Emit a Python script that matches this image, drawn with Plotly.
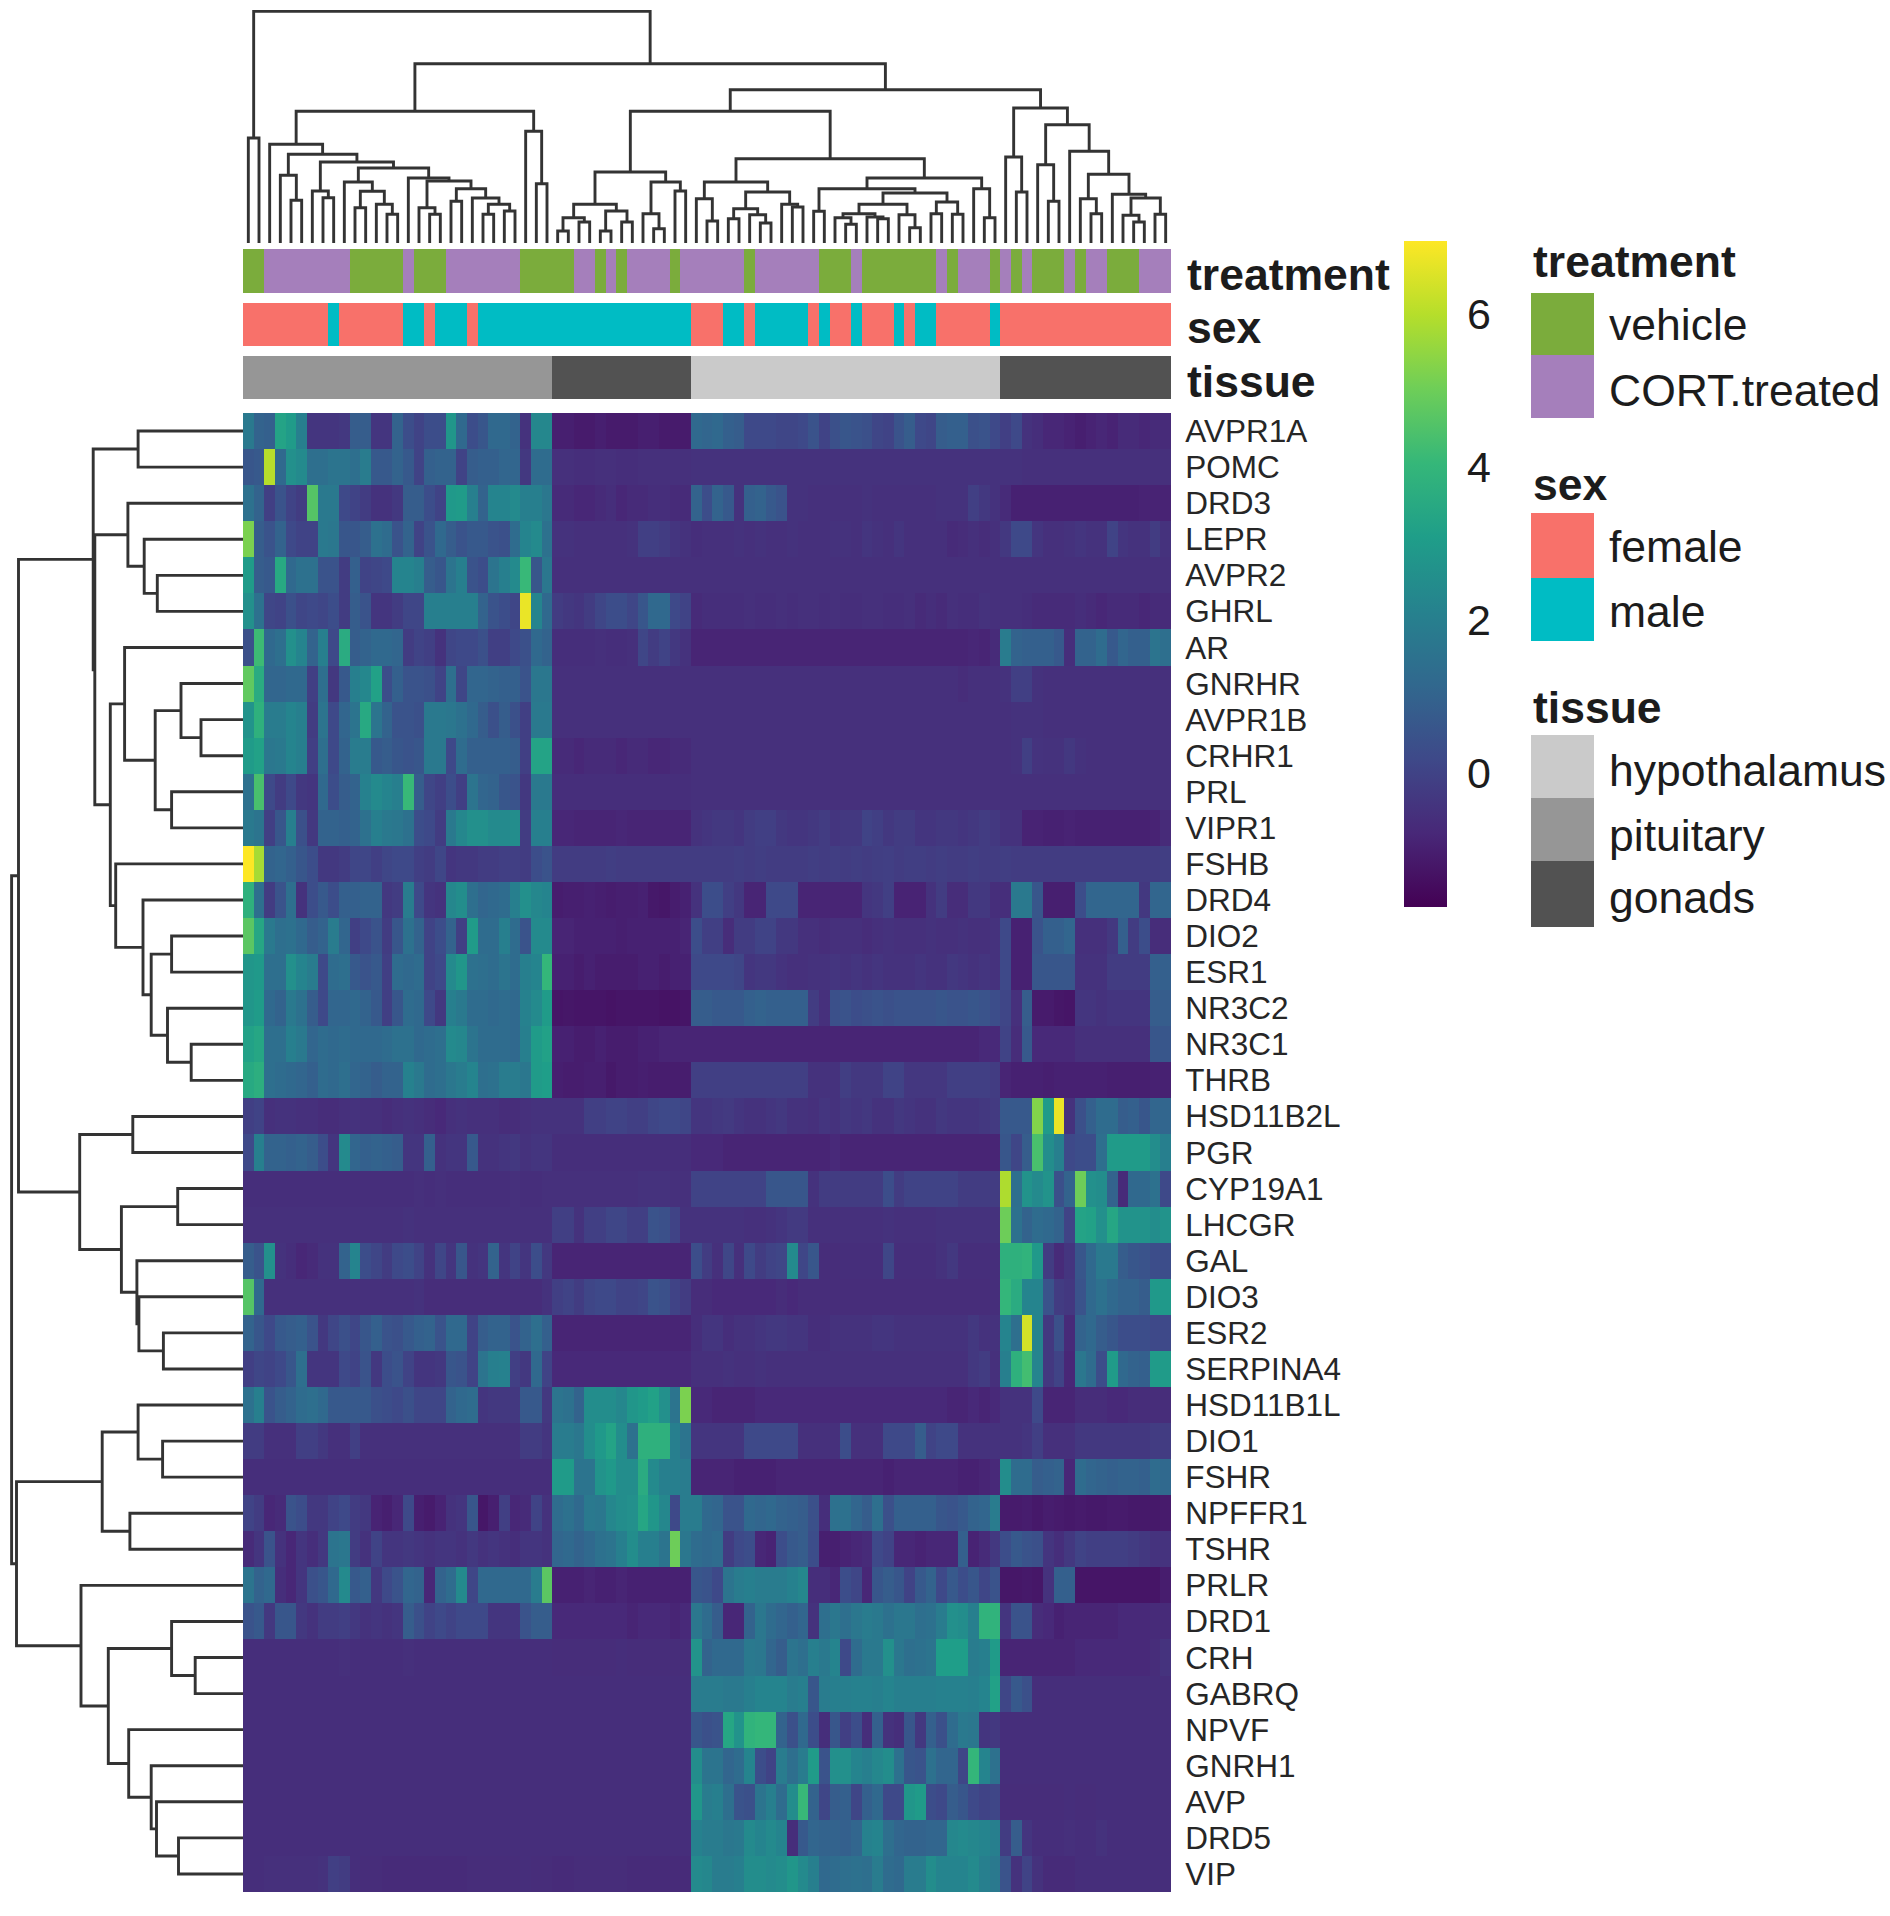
import plotly.graph_objects as go

W, H = 1890, 1916

GENES = ["AVPR1A","POMC","DRD3","LEPR","AVPR2","GHRL","AR","GNRHR","AVPR1B","CRHR1","PRL","VIPR1","FSHB",
         "DRD4","DIO2","ESR1","NR3C2","NR3C1","THRB","HSD11B2L","PGR","CYP19A1","LHCGR","GAL","DIO3","ESR2",
         "SERPINA4","HSD11B1L","DIO1","FSHR","NPFFR1","TSHR","PRLR","DRD1","CRH","GABRQ","NPVF","GNRH1","AVP","DRD5","VIP"]

def row(a, b, c, d):
    assert (len(a), len(b), len(c), len(d)) == (29, 13, 29, 16), (len(a), len(b), len(c), len(d))
    return a + b + c + d

AVPR1A = row([1.8,1.0,0.9,3.3,3.0,2.0,-0.4,-0.4,-0.4,-0.3,0.8,0.8,-0.4,-0.4,1.0,0.3,0.0,0.3,0.3,2.8,1.2,0.3,0.6,1.2,1.2,1.0,-0.5,2.3,2.3],
 [-1.0,-1.0,-1.1,-1.1,-1.0,-1.1,-1.1,-1.1,-1.0,-1.0,-1.1,-1.1,-1.1],
 [1.2,1.1,1.2,0.9,0.8,0.2,0.2,0.2,0.1,0.1,0.2,0.5,0.0,0.4,0.6,0.5,0.4,0.1,0.0,0.5,0.8,0.2,0.1,0.8,0.9,0.9,0.4,0.5,0.2],
 [-0.1,0.2,-0.5,-0.6,-0.8,-0.8,-0.9,-1.0,-0.9,-0.8,-0.9,-0.7,-0.7,-0.8,-0.7,-0.7])
POMC = row([0.6,0.7,6.0,1.2,2.6,2.4,1.4,1.4,1.6,1.6,1.4,1.9,0.7,0.7,1.0,0.7,0.0,0.9,1.0,1.0,0.0,0.8,0.9,0.9,1.1,1.1,-0.3,1.3,1.3],
 [-0.55,-0.55,-0.6,-0.6,-0.55,-0.55,-0.6,-0.6,-0.55,-0.55,-0.55,-0.55,-0.55],
 [-0.5,-0.5,-0.5,-0.5,-0.5,-0.5,-0.5,-0.5,-0.5,-0.5,-0.5,-0.5,-0.5,-0.5,-0.5,-0.5,-0.5,-0.5,-0.5,-0.5,-0.5,-0.5,-0.5,-0.5,-0.5,-0.5,-0.5,-0.5,-0.5],
 [-0.5,-0.5,-0.55,-0.55,-0.55,-0.55,-0.55,-0.55,-0.55,-0.55,-0.55,-0.55,-0.55,-0.55,-0.55,-0.55])
DRD3 = row([1.5,1.0,-0.1,0.5,0.0,-0.2,4.6,1.8,1.8,0.2,0.0,-0.2,-0.5,-0.5,-0.3,0.8,0.8,0.3,0.0,2.9,3.0,2.0,1.0,2.2,2.2,2.4,2.0,2.0,1.7],
 [-0.7,-0.7,-0.8,-0.8,-0.7,-0.6,-0.8,-0.7,-0.7,-0.6,-0.6,-0.7,-0.7],
 [1.0,0.3,1.0,0.7,-0.5,0.9,1.0,0.7,0.5,-0.5,-0.5,-0.55,-0.55,-0.55,-0.55,-0.55,-0.5,-0.55,-0.55,-0.55,-0.55,-0.55,-0.55,-0.5,-0.5,-0.5,-0.1,-0.3,-0.5],
 [-0.7,-0.95,-0.95,-0.95,-0.95,-0.95,-0.95,-0.95,-0.95,-0.95,-0.95,-0.95,-0.95,-0.9,-0.9,-0.9])
LEPR = row([5.2,0.8,0.5,1.0,0.2,0.0,0.0,1.8,1.7,0.6,0.6,0.8,1.5,1.3,0.5,1.0,0.0,0.5,1.2,0.8,0.5,0.7,0.7,0.5,0.4,1.3,2.2,2.4,1.5],
 [-0.5,-0.5,-0.55,-0.55,-0.55,-0.55,-0.55,-0.5,-0.1,-0.1,-0.2,-0.4,-0.5],
 [-0.6,-0.55,-0.55,-0.55,-0.5,-0.55,-0.5,-0.55,-0.55,-0.5,-0.55,-0.55,-0.55,-0.5,-0.5,-0.55,-0.4,-0.5,-0.55,-0.4,-0.55,-0.55,-0.55,-0.55,-0.7,-0.65,-0.55,-0.65,-0.55],
 [-0.3,0.2,0.2,-0.4,-0.55,-0.55,-0.5,-0.4,-0.5,-0.5,0.0,-0.4,-0.5,-0.5,-0.2,-0.5])
AVPR2 = row([3.0,0.8,0.7,3.5,1.2,1.5,1.5,0.5,0.5,-0.2,0.9,0.0,0.1,0.2,2.2,2.2,2.0,0.8,0.6,1.6,2.0,0.5,0.3,1.6,2.0,2.4,4.1,0.6,1.7],
 [-0.55,-0.55,-0.55,-0.55,-0.55,-0.55,-0.55,-0.55,-0.55,-0.55,-0.55,-0.55,-0.55],
 [-0.55,-0.55,-0.55,-0.55,-0.55,-0.55,-0.55,-0.55,-0.55,-0.55,-0.55,-0.55,-0.55,-0.55,-0.55,-0.55,-0.55,-0.55,-0.55,-0.55,-0.55,-0.55,-0.55,-0.55,-0.55,-0.55,-0.55,-0.55,-0.55],
 [-0.55,-0.55,-0.55,-0.55,-0.55,-0.55,-0.55,-0.55,-0.55,-0.55,-0.55,-0.55,-0.55,-0.55,-0.55,-0.55])
GHRL = row([2.6,1.5,0.1,0.0,0.4,0.1,0.2,0.1,0.3,-0.2,0.8,0.5,-0.4,-0.4,-0.2,0.1,0.1,2.0,2.0,2.0,2.0,2.0,1.0,0.5,0.3,0.1,6.7,2.2,1.2],
 [-0.2,-0.3,-0.4,-0.2,0.1,0.3,0.3,0.1,0.6,1.2,1.2,0.2,0.0],
 [-0.7,-0.6,-0.6,-0.6,-0.6,-0.55,-0.6,-0.6,-0.55,-0.6,-0.55,-0.55,-0.6,-0.55,-0.6,-0.6,-0.55,-0.55,-0.6,-0.6,-0.55,-0.7,-0.6,-0.7,-0.55,-0.6,-0.6,-0.5,-0.55],
 [-0.55,-0.55,-0.6,-0.7,-0.7,-0.7,-0.7,-0.6,-0.7,-0.8,-0.7,-0.7,-0.7,-0.8,-0.7,-0.7])
AR = row([0.4,4.2,1.2,1.4,2.6,2.2,1.0,2.0,0.2,3.6,0.8,1.0,1.2,1.2,1.1,-0.2,0.0,-0.1,-0.5,0.1,0.2,0.2,0.4,-0.1,-0.1,0.2,0.4,1.2,1.0],
 [-0.6,-0.6,-0.6,-0.6,-0.55,-0.6,-0.6,-0.55,0.1,-0.2,0.0,-0.3,-0.5],
 [-0.85,-0.85,-0.85,-0.85,-0.85,-0.85,-0.85,-0.85,-0.85,-0.85,-0.85,-0.85,-0.85,-0.85,-0.85,-0.85,-0.85,-0.85,-0.85,-0.85,-0.85,-0.85,-0.85,-0.85,-0.85,-0.85,-0.8,-0.85,-0.7],
 [1.9,1.0,0.9,0.9,0.9,0.7,-0.6,1.0,1.0,1.3,0.7,1.1,0.9,0.9,1.6,1.4])
GNRHR = row([4.8,3.6,1.1,1.1,1.2,1.2,-0.1,1.4,-0.3,0.7,2.0,2.3,3.2,0.3,0.9,0.5,0.5,0.4,0.0,1.4,0.1,1.1,1.1,1.0,0.9,0.9,0.5,1.7,1.7],
 [-0.55,-0.55,-0.55,-0.55,-0.55,-0.55,-0.55,-0.55,-0.55,-0.55,-0.55,-0.55,-0.55],
 [-0.55,-0.55,-0.55,-0.55,-0.55,-0.55,-0.55,-0.55,-0.55,-0.55,-0.55,-0.55,-0.55,-0.55,-0.55,-0.55,-0.55,-0.55,-0.55,-0.55,-0.55,-0.55,-0.55,-0.55,-0.55,-0.65,-0.55,-0.55,-0.55],
 [-0.5,-0.1,-0.1,-0.5,-0.55,-0.55,-0.55,-0.55,-0.55,-0.55,-0.55,-0.55,-0.55,-0.55,-0.55,-0.55])
AVPR1B = row([2.7,3.8,1.9,1.9,2.2,2.0,-0.2,1.6,0.2,1.1,1.6,3.5,1.6,1.0,0.5,0.5,0.4,1.8,1.8,1.7,1.5,1.2,0.8,0.4,0.8,0.4,-0.1,1.8,1.8],
 [-0.55,-0.55,-0.55,-0.55,-0.55,-0.55,-0.55,-0.55,-0.55,-0.55,-0.55,-0.55,-0.55],
 [-0.55,-0.55,-0.55,-0.55,-0.55,-0.55,-0.55,-0.55,-0.55,-0.55,-0.55,-0.55,-0.55,-0.55,-0.55,-0.55,-0.55,-0.55,-0.55,-0.55,-0.55,-0.55,-0.55,-0.55,-0.55,-0.55,-0.55,-0.55,-0.55],
 [-0.55,-0.5,-0.5,-0.5,-0.55,-0.55,-0.55,-0.55,-0.55,-0.55,-0.55,-0.55,-0.55,-0.55,-0.55,-0.55])
CRHR1 = row([3.0,3.2,1.7,1.8,2.2,2.0,-0.1,1.4,0.2,1.0,1.9,1.9,0.7,0.8,0.6,0.5,0.6,1.8,1.8,0.2,1.3,0.9,0.9,0.9,0.9,0.8,-0.1,3.3,3.3],
 [-0.7,-0.7,-0.8,-0.7,-0.7,-0.7,-0.8,-0.7,-0.7,-0.8,-0.8,-0.7,-0.7],
 [-0.55,-0.55,-0.55,-0.55,-0.55,-0.55,-0.55,-0.55,-0.55,-0.55,-0.55,-0.55,-0.55,-0.55,-0.55,-0.55,-0.55,-0.55,-0.55,-0.55,-0.55,-0.55,-0.55,-0.55,-0.55,-0.55,-0.55,-0.55,-0.55],
 [-0.55,-0.5,-0.1,-0.45,-0.5,-0.5,-0.3,-0.5,-0.55,-0.55,-0.55,-0.55,-0.55,-0.55,-0.55,-0.55])
PRL = row([1.5,4.4,0.2,-0.2,0.2,-0.3,-0.4,1.2,0.3,0.8,1.0,2.1,2.4,2.2,2.0,4.1,0.8,0.1,-0.1,0.3,-0.1,1.6,1.1,1.0,0.6,0.5,-0.3,1.8,1.8],
 [-0.6,-0.6,-0.6,-0.6,-0.6,-0.6,-0.6,-0.6,-0.6,-0.6,-0.6,-0.6,-0.6],
 [-0.55,-0.55,-0.55,-0.55,-0.55,-0.55,-0.55,-0.55,-0.55,-0.55,-0.55,-0.55,-0.55,-0.55,-0.55,-0.55,-0.55,-0.55,-0.55,-0.55,-0.55,-0.55,-0.55,-0.55,-0.55,-0.55,-0.55,-0.55,-0.55],
 [-0.55,-0.55,-0.55,-0.55,-0.55,-0.55,-0.55,-0.55,-0.55,-0.55,-0.55,-0.55,-0.55,-0.55,-0.55,-0.55])
VIPR1 = row([1.8,1.6,-0.1,0.6,2.0,0.4,-0.3,1.0,1.0,0.9,1.0,1.5,2.0,1.8,1.7,1.5,0.3,0.2,-0.2,1.8,2.3,2.6,2.6,2.4,2.4,2.5,-0.2,2.0,2.0],
 [-0.8,-0.8,-0.85,-0.85,-0.85,-0.85,-0.8,-0.85,-0.85,-0.85,-0.85,-0.85,-0.85],
 [-0.5,-0.4,-0.3,-0.3,-0.4,-0.2,-0.1,-0.1,-0.3,-0.4,-0.4,-0.3,-0.2,-0.4,-0.3,-0.3,0.0,-0.1,-0.3,-0.2,-0.2,-0.4,-0.4,-0.3,-0.3,-0.4,-0.3,-0.2,-0.3],
 [-0.5,-0.5,-0.9,-0.9,-0.95,-0.95,-0.9,-0.95,-0.95,-0.95,-0.95,-0.95,-0.95,-0.95,-0.9,-0.7])
FSHB = row([7.0,5.8,1.0,1.1,0.9,0.6,0.3,-0.3,-0.3,-0.2,0.1,0.1,-0.1,0.1,0.2,0.2,-0.1,-0.2,0.1,-0.4,-0.3,-0.3,-0.2,-0.2,-0.1,-0.1,-0.2,0.3,0.5],
 [-0.2,-0.2,-0.2,-0.2,-0.2,-0.15,-0.2,-0.2,-0.2,-0.2,-0.2,-0.2,-0.2],
 [-0.2,-0.2,-0.2,-0.2,-0.15,-0.2,-0.15,-0.2,-0.2,-0.2,-0.2,-0.15,-0.2,-0.15,-0.2,-0.15,-0.2,-0.15,-0.1,-0.2,-0.15,-0.15,-0.2,-0.15,-0.2,-0.2,-0.15,-0.2,-0.2],
 [-0.15,-0.2,-0.2,-0.2,-0.2,-0.2,-0.2,-0.2,-0.2,-0.2,-0.2,-0.2,-0.2,-0.2,-0.2,-0.15])
DRD4 = row([3.8,1.4,-0.2,0.5,1.4,-0.5,0.3,0.7,0.3,0.9,0.9,1.0,1.0,-0.3,-0.2,1.9,0.2,-0.4,-0.5,2.3,2.5,1.4,1.1,1.2,1.3,2.0,2.6,2.3,2.2],
 [-1.05,-1.0,-1.0,-0.95,-1.0,-1.05,-1.0,-1.0,-0.95,-1.15,-1.2,-1.05,-0.95],
 [-0.5,0.3,0.3,-0.1,-0.3,-0.85,-0.85,0.2,0.2,0.2,-0.85,-0.85,-0.85,-0.85,-0.85,-0.85,-0.4,-0.3,-0.1,-0.9,-0.9,-0.9,-0.5,-0.2,-0.65,-0.65,-0.3,-0.3,-0.6],
 [-0.6,1.8,1.8,0.6,-1.0,-1.0,-1.0,0.3,1.1,1.1,1.1,1.1,1.1,-0.3,1.1,1.1])
DIO2 = row([4.7,3.4,1.8,1.4,1.5,1.2,0.8,1.0,1.9,1.1,-0.1,0.2,0.5,-0.2,0.6,1.5,1.0,0.0,0.3,1.0,-0.1,3.0,1.3,1.3,2.0,1.3,0.5,2.4,2.4],
 [-0.85,-0.85,-0.95,-0.95,-0.95,-0.95,-1.0,-0.95,-0.95,-0.95,-0.95,-0.95,-0.85],
 [0.3,-0.1,-0.1,-0.65,-0.2,-0.2,0.0,0.0,-0.3,-0.3,-0.55,-0.55,-0.65,-0.55,-0.55,-0.55,-0.65,-0.55,-0.5,-0.55,-0.55,-0.55,-0.5,-0.55,-0.55,-0.5,-0.55,-0.55,-0.5],
 [0.2,-0.95,-0.95,0.5,0.9,0.9,1.1,-0.55,-0.55,-0.55,-0.3,0.9,-0.2,0.3,-0.65,-0.65])
ESR1 = row([2.8,2.9,1.4,1.4,2.6,2.2,1.9,0.2,1.3,1.4,0.7,0.5,0.7,-0.1,1.3,1.2,1.3,0.0,0.2,2.4,2.8,1.5,1.4,1.3,1.6,1.3,2.0,2.2,4.0],
 [-0.95,-0.95,-1.05,-0.95,-1.05,-1.05,-1.05,-1.05,-0.95,-0.95,-1.05,-0.95,-0.95],
 [0.2,0.2,0.2,0.2,0.1,-0.4,-0.3,-0.3,-0.45,-0.55,-0.55,-0.5,-0.5,-0.4,-0.5,-0.4,-0.5,-0.4,-0.5,-0.5,-0.5,-0.4,-0.5,-0.5,-0.3,-0.4,-0.5,-0.4,-0.5],
 [0.2,-0.95,-0.95,0.6,0.6,0.6,0.6,-0.5,-0.5,-0.5,-0.2,-0.2,-0.2,-0.2,0.9,0.9])
NR3C2 = row([2.8,3.0,1.2,1.0,1.8,1.5,0.8,0.2,1.1,1.1,1.2,1.0,0.7,-0.1,0.6,1.3,1.2,0.2,-0.3,2.0,1.8,1.3,1.3,1.2,1.3,1.2,2.1,2.4,3.0],
 [-1.25,-1.2,-1.25,-1.25,-1.25,-1.3,-1.25,-1.25,-1.25,-1.25,-1.3,-1.3,-1.25],
 [0.8,0.8,0.7,0.7,0.7,0.9,1.0,0.9,0.9,0.9,0.9,-0.2,-0.55,0.4,0.5,0.3,0.4,0.5,0.4,0.5,0.5,0.5,0.5,0.6,0.5,0.5,0.6,0.5,0.3],
 [0.1,-0.55,0.8,-1.1,-1.1,-1.2,-1.25,-0.4,-0.4,-0.5,-0.4,-0.4,-0.4,-0.4,0.8,0.8])
NR3C1 = row([3.2,3.4,1.4,1.4,2.0,1.8,1.1,1.3,1.2,1.3,1.2,1.2,1.2,1.3,1.5,1.5,1.2,1.3,1.4,2.4,2.3,1.6,1.3,1.3,1.3,1.2,2.0,3.0,3.2],
 [-0.95,-0.95,-1.05,-1.05,-0.95,-1.05,-1.05,-1.05,-0.95,-0.95,-0.85,-0.85,-0.85],
 [-0.85,-0.85,-0.85,-0.85,-0.85,-0.85,-0.85,-0.85,-0.85,-0.85,-0.85,-0.85,-0.85,-0.85,-0.85,-0.85,-0.85,-0.85,-0.85,-0.85,-0.85,-0.85,-0.85,-0.85,-0.85,-0.85,-0.85,-0.75,-0.75],
 [0.0,-0.65,0.7,-0.75,-0.75,-0.75,-0.75,-0.55,-0.55,-0.55,-0.55,-0.55,-0.55,-0.55,0.6,0.6])
THRB = row([3.5,3.7,1.4,1.3,1.2,1.1,0.9,1.3,1.2,1.4,1.1,1.0,0.8,1.0,1.0,2.1,1.8,1.3,1.4,1.7,1.9,2.2,1.4,1.5,1.9,1.9,1.7,3.0,3.1],
 [-1.0,-1.05,-1.05,-1.0,-1.0,-1.15,-1.05,-1.05,-1.0,-1.05,-1.05,-1.05,-1.05],
 [-0.1,-0.1,-0.1,-0.1,-0.1,-0.1,-0.1,-0.1,-0.1,-0.1,-0.1,-0.5,-0.5,-0.5,-0.15,-0.3,-0.3,-0.3,0.0,0.0,-0.35,-0.35,-0.35,-0.35,-0.1,-0.1,-0.1,-0.1,-0.2],
 [-0.85,-0.95,-0.95,-0.95,-1.0,-0.95,-0.95,-0.95,-0.95,-0.95,-1.0,-1.0,-1.0,-1.0,-0.95,-0.95])
HSD11B2L = row([-0.1,0.0,-0.55,-0.5,-0.5,-0.55,-0.55,-0.65,-0.65,-0.55,-0.5,-0.55,-0.55,-0.65,-0.55,-0.5,-0.55,-0.65,-0.75,-0.55,-0.5,-0.55,-0.55,-0.55,-0.65,-0.65,-0.55,-0.5,-0.5],
 [-0.5,-0.5,-0.5,-0.1,-0.1,0.0,0.0,-0.1,-0.1,0.1,0.2,0.2,0.1],
 [-0.4,-0.4,-0.3,-0.25,-0.4,-0.5,-0.5,-0.4,-0.3,-0.5,-0.5,-0.55,-0.4,-0.5,-0.3,-0.4,-0.3,-0.5,-0.5,-0.3,-0.4,-0.5,-0.5,-0.3,-0.4,-0.4,-0.4,-0.3,-0.25],
 [0.7,0.7,0.7,5.3,3.0,6.7,-0.5,0.4,0.9,1.3,1.3,0.8,0.9,0.6,1.1,1.1])
PGR = row([0.2,2.0,1.0,1.0,0.9,1.0,0.8,0.3,-0.4,2.4,1.1,0.9,1.0,0.9,0.8,-0.4,-0.4,0.9,-0.5,-0.4,-0.4,0.7,-0.5,-0.5,-0.4,-0.3,-0.5,-0.4,-0.4],
 [-0.6,-0.6,-0.6,-0.6,-0.6,-0.6,-0.6,-0.6,-0.6,-0.6,-0.6,-0.6,-0.6],
 [-0.75,-0.75,-0.75,-0.85,-0.85,-0.85,-0.85,-0.85,-0.85,-0.85,-0.85,-0.85,-0.85,-0.75,-0.85,-0.85,-0.85,-0.85,-0.85,-0.85,-0.85,-0.85,-0.85,-0.85,-0.85,-0.85,-0.85,-0.85,-0.85],
 [0.6,0.1,0.8,4.4,2.5,2.0,0.2,0.3,0.3,1.4,3.0,3.0,3.0,3.0,2.5,2.0])
CYP19A1 = row([-0.6,-0.6,-0.6,-0.6,-0.6,-0.6,-0.6,-0.6,-0.6,-0.6,-0.6,-0.6,-0.6,-0.6,-0.6,-0.6,-0.55,-0.6,-0.55,-0.6,-0.6,-0.6,-0.6,-0.6,-0.6,-0.55,-0.6,-0.6,-0.55],
 [-0.55,-0.55,-0.55,-0.55,-0.55,-0.55,-0.55,-0.55,-0.5,-0.5,-0.5,-0.55,-0.55],
 [0.0,0.0,0.0,0.0,0.0,0.0,0.0,0.6,0.6,0.6,0.6,-0.5,-0.2,-0.2,-0.2,-0.2,-0.2,-0.2,0.3,-0.2,0.0,0.0,0.0,0.0,0.0,-0.2,-0.2,-0.2,-0.2],
 [5.9,1.4,2.7,2.4,2.7,0.4,1.0,5.0,2.6,2.5,1.0,-0.7,1.2,1.2,1.5,0.2])
LHCGR = row([-0.55,-0.55,-0.55,-0.55,-0.55,-0.55,-0.55,-0.55,-0.55,-0.55,-0.55,-0.55,-0.55,-0.55,-0.55,-0.5,-0.55,-0.55,-0.55,-0.55,-0.55,-0.55,-0.55,-0.55,-0.55,-0.55,-0.55,-0.55,-0.55],
 [-0.1,-0.1,-0.5,-0.1,-0.1,0.1,0.1,-0.1,-0.1,0.5,0.4,0.0,-0.5],
 [-0.5,-0.5,-0.5,-0.5,-0.5,-0.55,-0.55,-0.5,-0.4,-0.25,-0.25,-0.55,-0.55,-0.55,-0.55,-0.55,-0.55,-0.55,-0.5,-0.55,-0.55,-0.55,-0.55,-0.5,-0.5,-0.5,-0.5,-0.5,-0.5],
 [5.0,1.5,1.0,1.3,1.2,1.0,0.0,3.3,3.2,2.6,3.4,2.7,2.7,2.7,2.5,2.7])
GAL = row([0.8,0.5,2.6,-0.5,-0.6,-0.8,-0.7,-0.5,-0.5,1.0,2.2,0.3,0.1,-0.2,0.2,0.3,0.0,-0.5,0.1,-0.4,0.6,-0.5,-0.4,1.0,-0.4,0.0,-0.4,0.3,-0.3],
 [-0.85,-0.85,-0.85,-0.85,-0.85,-0.85,-0.85,-0.85,-0.85,-0.85,-0.85,-0.85,-0.85],
 [0.3,-0.2,-0.55,0.1,-0.55,0.2,-0.2,0.0,0.1,2.4,0.1,0.6,-0.65,-0.65,-0.6,-0.6,-0.6,-0.6,0.1,-0.6,-0.6,-0.6,-0.6,-0.5,-0.3,-0.6,-0.6,-0.6,-0.6],
 [3.8,3.8,3.9,2.9,-0.2,-0.7,-0.4,0.6,1.2,1.8,1.8,0.8,0.6,0.5,0.3,0.3])
DIO3 = row([4.6,1.2,-0.55,-0.55,-0.55,-0.55,-0.55,-0.55,-0.55,-0.55,-0.55,-0.55,-0.55,-0.55,-0.55,-0.55,-0.5,-0.65,-0.65,-0.65,-0.65,-0.65,-0.65,-0.65,-0.65,-0.65,-0.65,-0.65,-0.5],
 [-0.1,0.0,-0.2,0.1,0.2,0.2,0.0,0.0,0.1,0.5,0.4,0.0,-0.2],
 [-0.65,-0.65,-0.75,-0.75,-0.75,-0.75,-0.75,-0.75,-0.65,-0.75,-0.65,-0.65,-0.65,-0.65,-0.65,-0.65,-0.65,-0.65,-0.65,-0.65,-0.65,-0.65,-0.65,-0.65,-0.65,-0.65,-0.65,-0.65,-0.6],
 [4.0,3.6,2.2,2.2,0.5,-0.2,-0.3,0.5,1.2,1.5,1.2,1.0,1.0,0.8,2.9,2.9])
ESR2 = row([1.0,0.6,0.2,0.7,0.8,0.9,0.5,-0.3,0.1,0.4,0.1,0.6,0.9,0.5,0.4,0.7,0.9,1.0,0.5,1.2,1.2,0.0,0.8,1.0,1.0,0.5,1.0,1.4,0.9],
 [-0.85,-0.85,-0.85,-0.85,-0.85,-0.85,-0.85,-0.85,-0.85,-0.85,-0.85,-0.85,-0.85],
 [-0.6,-0.4,-0.4,-0.6,-0.5,-0.5,-0.4,-0.3,-0.3,-0.4,-0.4,-0.6,-0.6,-0.5,-0.5,-0.5,-0.5,-0.4,-0.4,-0.5,-0.5,-0.5,-0.5,-0.5,-0.5,-0.5,-0.3,-0.5,-0.5],
 [2.2,1.4,6.4,2.2,-0.3,0.4,-0.7,1.0,1.2,0.8,0.6,0.3,0.3,0.3,0.2,0.2])
SERPINA4 = row([-0.1,0.1,0.0,0.2,0.6,1.4,-0.4,-0.4,-0.4,0.2,0.0,0.5,-0.3,0.3,0.5,0.0,-0.4,-0.4,-0.3,0.6,0.5,0.0,1.6,2.0,2.1,-0.1,-0.3,1.2,0.0],
 [-0.75,-0.75,-0.75,-0.75,-0.75,-0.75,-0.75,-0.75,-0.75,-0.75,-0.75,-0.75,-0.75],
 [-0.55,-0.55,-0.55,-0.5,-0.55,-0.55,-0.5,-0.55,-0.55,-0.55,-0.55,-0.55,-0.55,-0.55,-0.55,-0.55,-0.55,-0.55,-0.55,-0.55,-0.55,-0.55,-0.55,-0.55,-0.55,-0.55,-0.3,-0.2,-0.55],
 [2.0,3.8,4.3,2.2,-0.3,0.0,-0.8,1.7,1.3,0.3,3.0,1.2,1.0,0.9,3.0,3.0])
HSD11B1L = row([1.5,2.0,0.5,0.8,1.0,1.3,1.4,1.2,0.7,0.7,0.7,0.7,0.4,0.3,0.2,0.4,0.1,0.1,0.1,1.0,1.2,1.3,-0.4,-0.3,-0.3,-0.3,0.7,0.7,-0.3],
 [1.6,1.5,1.0,2.5,2.5,2.5,2.3,2.8,3.0,3.2,2.6,1.6,5.2],
 [-0.75,-0.75,-0.85,-0.85,-0.85,-0.85,-0.75,-0.75,-0.75,-0.75,-0.75,-0.75,-0.75,-0.75,-0.75,-0.75,-0.75,-0.75,-0.75,-0.75,-0.75,-0.75,-0.75,-0.75,-0.85,-0.85,-0.75,-0.85,-0.75],
 [-0.5,-0.5,-0.5,0.2,-0.85,-0.85,-0.85,-0.65,-0.65,-0.65,-0.75,-0.75,-0.65,-0.65,-0.65,-0.65])
DIO1 = row([-0.2,-0.2,-0.55,-0.55,-0.55,-0.1,-0.1,-0.3,-0.55,-0.55,-0.1,-0.55,-0.55,-0.55,-0.55,-0.55,-0.55,-0.55,-0.55,-0.55,-0.55,-0.55,-0.55,-0.55,-0.55,-0.55,-0.2,-0.2,-0.4],
 [1.9,1.9,1.7,2.5,2.9,3.3,2.5,1.5,3.8,3.8,3.8,2.0,1.6],
 [-0.4,-0.4,-0.4,-0.4,-0.4,0.2,0.2,0.2,0.2,0.2,-0.55,-0.55,-0.55,-0.55,0.3,-0.55,-0.55,-0.55,0.2,0.2,0.2,0.8,0.0,0.2,0.2,-0.5,-0.5,-0.5,-0.5],
 [-0.5,-0.5,-0.4,-0.1,-0.55,-0.55,-0.55,-0.3,-0.3,-0.3,-0.3,-0.3,-0.3,-0.3,-0.2,-0.2])
FSHR = row([-0.6,-0.6,-0.6,-0.6,-0.6,-0.6,-0.6,-0.6,-0.6,-0.6,-0.6,-0.6,-0.6,-0.6,-0.6,-0.6,-0.6,-0.6,-0.6,-0.6,-0.6,-0.6,-0.6,-0.6,-0.6,-0.6,-0.6,-0.6,-0.6],
 [3.0,3.0,1.6,1.6,2.7,2.9,2.5,2.5,3.6,2.4,2.0,2.0,1.9],
 [-0.85,-0.85,-0.85,-0.85,-0.95,-0.95,-0.95,-0.95,-0.85,-0.85,-0.85,-0.85,-0.85,-0.85,-0.85,-0.85,-0.85,-0.85,-0.95,-0.85,-0.85,-0.85,-0.85,-0.85,-0.85,-0.95,-0.95,-0.85,-0.75],
 [2.5,1.3,1.3,0.8,0.9,1.0,-0.8,1.3,1.1,1.0,0.9,1.0,1.0,0.9,1.3,1.2])
NPFFR1 = row([0.0,-0.2,-0.8,-0.7,0.5,0.3,-0.3,-0.3,0.0,0.2,-0.2,-0.3,-0.9,-1.0,-0.8,0.2,-1.0,-1.1,-0.9,-0.5,-0.4,0.6,-1.2,-1.0,-0.1,-0.8,-0.7,0.0,-0.5],
 [1.3,1.5,1.2,1.8,1.7,2.3,2.5,2.6,3.4,2.8,2.3,0.2,1.9],
 [1.9,1.2,1.1,0.5,0.5,1.2,1.1,1.2,1.0,0.9,0.8,0.4,-0.6,1.5,1.5,1.1,0.8,1.4,0.4,0.9,0.9,0.9,0.9,0.6,0.5,0.7,1.0,1.1,1.9],
 [-1.1,-1.1,-1.05,-1.15,-1.05,-1.1,-1.15,-1.1,-1.15,-1.15,-1.1,-1.1,-1.15,-1.15,-1.15,-1.1])
TSHR = row([-0.7,-0.4,0.5,-0.5,-0.8,-0.4,-0.6,-0.3,1.6,1.7,-0.2,-0.5,0.0,-0.4,-0.4,-0.3,-0.4,-0.5,-0.4,-0.4,-0.5,-0.3,-0.5,-0.4,-0.5,-0.6,-0.4,-0.4,-0.5],
 [1.1,1.2,1.0,1.2,1.5,1.6,2.0,2.5,2.0,2.0,1.6,5.0,1.7],
 [1.3,1.2,1.3,-0.2,0.2,0.3,-0.8,-0.9,0.3,0.7,0.8,0.3,-1.0,-1.0,-0.9,-0.8,-0.7,0.2,0.0,-0.8,-0.8,-0.9,-0.8,-0.8,-0.8,0.9,-0.9,-0.7,-0.3],
 [0.3,0.7,0.5,0.4,-0.4,-0.6,-0.3,0.0,-0.1,-0.1,-0.1,-0.1,-0.2,-0.3,-0.45,-0.45])
PRLR = row([1.6,1.0,1.2,-0.6,-0.8,-0.4,0.4,0.6,1.2,2.4,0.7,0.9,-0.3,0.2,0.5,1.1,1.0,-0.8,1.0,1.3,2.4,0.1,1.2,1.2,1.2,1.2,1.2,1.9,4.7],
 [-0.95,-0.95,-0.95,-0.85,-0.95,-0.95,-0.85,-0.95,-0.95,-0.95,-0.95,-0.95,-0.95],
 [0.6,0.5,0.2,1.6,1.9,2.0,1.9,1.9,1.9,2.1,2.3,-0.6,-0.6,-0.8,0.3,0.1,-0.8,0.6,0.8,0.6,0.0,0.7,1.0,0.2,0.7,0.3,0.6,0.1,0.5],
 [-1.2,-1.2,-1.15,-1.2,-0.5,0.9,0.9,-1.25,-1.25,-1.25,-1.25,-1.25,-1.25,-1.25,-1.25,-1.05])
DRD1 = row([0.5,0.7,-0.3,0.6,0.6,-0.3,-0.5,-0.2,-0.2,-0.1,-0.3,-0.5,-0.4,-0.5,-0.4,0.8,0.4,0.0,0.2,0.0,0.2,0.2,0.2,-0.4,-0.4,-0.4,0.5,0.8,0.8],
 [-0.75,-0.75,-0.75,-0.75,-0.75,-0.75,-0.75,-0.85,-0.75,-0.75,-0.75,-0.85,-0.75],
 [1.7,1.3,0.8,-0.8,-0.8,1.0,1.7,1.3,1.1,0.9,1.1,-0.5,1.4,1.7,1.4,1.7,1.9,1.8,1.5,1.7,1.7,1.4,1.5,1.9,2.6,2.5,2.0,3.9,3.9],
 [-0.4,0.5,0.5,-0.65,-0.75,-0.95,-0.85,-0.85,-0.85,-0.85,-0.85,-0.75,-0.75,-0.75,-0.7,-0.7])
CRH = row([-0.6,-0.6,-0.6,-0.6,-0.6,-0.6,-0.6,-0.6,-0.6,-0.55,-0.6,-0.6,-0.6,-0.6,-0.6,-0.55,-0.6,-0.6,-0.6,-0.6,-0.6,-0.6,-0.6,-0.6,-0.6,-0.6,-0.6,-0.6,-0.6],
 [-0.65,-0.65,-0.65,-0.65,-0.65,-0.65,-0.6,-0.65,-0.65,-0.65,-0.65,-0.65,-0.65],
 [2.7,1.0,1.2,1.2,1.2,1.8,1.7,1.1,0.8,1.6,1.4,2.0,1.8,2.2,0.2,1.3,1.8,1.8,2.6,1.7,1.4,1.5,1.6,3.1,3.1,3.1,1.9,2.0,3.0],
 [-0.85,-0.85,-0.85,-0.85,-0.85,-0.85,-0.85,-0.75,-0.75,-0.75,-0.75,-0.75,-0.75,-0.75,-0.65,-0.45])
GABRQ = row([-0.6,-0.6,-0.6,-0.6,-0.6,-0.6,-0.6,-0.6,-0.6,-0.6,-0.6,-0.6,-0.6,-0.6,-0.6,-0.6,-0.6,-0.6,-0.6,-0.6,-0.6,-0.6,-0.6,-0.6,-0.6,-0.6,-0.6,-0.6,-0.6],
 [-0.6,-0.6,-0.6,-0.6,-0.6,-0.6,-0.6,-0.6,-0.6,-0.6,-0.6,-0.6,-0.6],
 [1.9,1.9,1.9,1.8,1.8,2.0,2.2,2.2,2.2,1.9,2.0,0.6,1.9,2.0,2.0,2.1,2.1,2.0,2.2,2.0,2.0,2.0,2.0,2.1,2.1,2.1,2.0,2.2,3.2],
 [0.1,0.7,0.4,-0.6,-0.6,-0.6,-0.6,-0.6,-0.6,-0.6,-0.6,-0.6,-0.6,-0.6,-0.6,-0.6])
NPVF = row([-0.6,-0.6,-0.6,-0.6,-0.6,-0.6,-0.6,-0.6,-0.6,-0.6,-0.6,-0.6,-0.6,-0.6,-0.6,-0.6,-0.6,-0.6,-0.6,-0.6,-0.6,-0.6,-0.6,-0.6,-0.6,-0.6,-0.6,-0.6,-0.6],
 [-0.6,-0.6,-0.6,-0.6,-0.6,-0.6,-0.6,-0.6,-0.6,-0.6,-0.6,-0.6,-0.6],
 [0.6,0.4,0.5,3.4,2.7,3.9,4.0,4.0,1.0,0.4,1.2,0.3,-0.6,0.6,-0.1,0.3,-0.6,0.9,-0.5,-0.6,0.6,-0.3,0.9,0.4,1.3,1.8,1.7,-0.4,-0.3],
 [-0.6,-0.6,-0.6,-0.6,-0.6,-0.6,-0.6,-0.6,-0.6,-0.6,-0.6,-0.6,-0.6,-0.6,-0.6,-0.6])
GNRH1 = row([-0.6,-0.6,-0.6,-0.6,-0.6,-0.6,-0.6,-0.6,-0.6,-0.6,-0.6,-0.6,-0.6,-0.6,-0.6,-0.6,-0.6,-0.6,-0.6,-0.6,-0.6,-0.6,-0.6,-0.6,-0.6,-0.6,-0.6,-0.6,-0.6],
 [-0.6,-0.6,-0.6,-0.6,-0.6,-0.6,-0.6,-0.6,-0.6,-0.6,-0.6,-0.6,-0.6],
 [2.5,1.6,1.6,1.1,1.3,2.2,0.3,0.0,1.9,1.4,1.9,3.0,0.5,2.6,2.6,2.2,2.0,2.3,2.5,1.5,0.6,0.5,1.5,1.1,1.1,0.1,4.0,2.2,1.5],
 [-0.6,-0.6,-0.6,-0.6,-0.6,-0.6,-0.6,-0.6,-0.6,-0.6,-0.6,-0.6,-0.6,-0.6,-0.6,-0.6])
AVP = row([-0.6,-0.6,-0.6,-0.6,-0.6,-0.6,-0.6,-0.6,-0.6,-0.6,-0.6,-0.6,-0.6,-0.6,-0.6,-0.6,-0.6,-0.6,-0.6,-0.6,-0.6,-0.6,-0.6,-0.6,-0.6,-0.6,-0.6,-0.6,-0.6],
 [-0.6,-0.6,-0.6,-0.6,-0.6,-0.6,-0.6,-0.6,-0.6,-0.6,-0.6,-0.6,-0.6],
 [2.8,1.9,2.0,1.4,0.5,0.4,1.6,2.0,1.3,2.5,4.1,1.0,0.1,0.8,0.9,0.1,0.9,1.2,0.2,0.2,2.8,3.0,0.3,0.2,0.8,0.6,0.2,0.0,0.1],
 [-0.65,-0.65,-0.65,-0.65,-0.65,-0.65,-0.6,-0.65,-0.65,-0.6,-0.6,-0.6,-0.6,-0.6,-0.6,-0.6])
DRD5 = row([-0.6,-0.6,-0.6,-0.6,-0.6,-0.6,-0.6,-0.6,-0.6,-0.6,-0.6,-0.6,-0.6,-0.6,-0.6,-0.6,-0.6,-0.6,-0.6,-0.6,-0.6,-0.6,-0.6,-0.6,-0.6,-0.6,-0.6,-0.6,-0.6],
 [-0.6,-0.6,-0.6,-0.6,-0.6,-0.6,-0.6,-0.6,-0.6,-0.6,-0.6,-0.6,-0.6],
 [2.1,1.9,1.9,1.7,1.8,2.4,2.2,2.4,2.2,-0.6,0.7,1.1,1.0,1.0,0.9,1.1,2.1,2.2,1.4,1.1,1.0,1.0,1.1,1.1,2.3,2.4,2.3,2.2,2.0],
 [-0.2,0.8,-0.4,-0.6,-0.6,-0.6,-0.55,-0.6,-0.6,-0.5,-0.6,-0.6,-0.6,-0.6,-0.6,-0.6])
VIP = row([-0.6,-0.6,-0.55,-0.55,-0.55,-0.55,-0.55,-0.5,-0.1,-0.2,-0.6,-0.65,-0.65,-0.7,-0.7,-0.7,-0.7,-0.7,-0.7,-0.7,-0.7,-0.65,-0.65,-0.65,-0.65,-0.65,-0.6,-0.65,-0.65],
 [-0.7,-0.7,-0.65,-0.65,-0.65,-0.65,-0.65,-0.7,-0.7,-0.7,-0.7,-0.7,-0.7],
 [2.4,2.3,1.9,1.9,2.0,2.5,2.5,2.4,2.5,2.8,2.4,2.0,1.2,1.3,1.4,1.5,1.4,1.9,1.3,1.2,1.9,1.9,2.5,2.2,2.2,2.2,2.4,2.0,1.8],
 [0.5,-0.5,0.0,-0.5,-0.7,-0.7,-0.7,-0.6,-0.6,-0.6,-0.6,-0.6,-0.6,-0.6,-0.6,-0.6])

MATRIX = [AVPR1A,POMC,DRD3,LEPR,AVPR2,GHRL,AR,GNRHR,AVPR1B,CRHR1,PRL,VIPR1,FSHB,DRD4,DIO2,ESR1,NR3C2,NR3C1,THRB,
          HSD11B2L,PGR,CYP19A1,LHCGR,GAL,DIO3,ESR2,SERPINA4,HSD11B1L,DIO1,FSHR,NPFFR1,TSHR,PRLR,DRD1,CRH,GABRQ,NPVF,GNRH1,AVP,DRD5,VIP]

# annotation tracks: (code, run length)
TREATMENT_RUNS = [(0,2),(1,8),(0,5),(1,1),(0,3),(1,7),(0,5),(1,2),(0,1),(1,1),(0,1),(1,4),(0,1),(1,6),(0,1),(1,6),(0,3),(1,1),
                  (0,7),(1,1),(0,1),(1,3),(0,1),(1,1),(0,1),(1,1),(0,3),(1,1),(0,1),(1,2),(0,3),(1,3)]
SEX_RUNS = [(0,8),(1,1),(0,6),(1,2),(0,1),(1,3),(0,1),(1,20),(0,3),(1,2),(0,1),(1,5),(0,1),(1,1),(0,2),(1,1),(0,3),(1,1),(0,1),(1,2),(0,5),(1,1),(0,16)]
TISSUE_RUNS = [(1,29),(2,13),(0,29),(2,16)]

def expand(runs):
    out = []
    for code, n in runs:
        out += [code] * n
    assert len(out) == 87, len(out)
    return out

# dendrograms: node = [merge height, left, right]; None = leaf (in display order)
L = None
COL_TREE = [231.7, [105, L, L],
 [179.3,
  [131.7,
   [98.7, L,
    [88.7,
     [67.7, L, [42.7, L, L]],
     [81,
      [52, L, [45.3, L, L]],
      [75,
       [61, L, [51.7, [35.3, L, L], [38.7, L, [28.7, L, L]]]],
       [65, L,
        [62,
         [35.3, L, [28.7, L, L]],
         [54.3, [41.7, L, L], [45, L, [38.7, [28.7, L, L], [32, L, L]]]]]]]]]],
   [111.7, L, [59.3, L, L]]],
  [153.3,
   [131.7,
    [71,
     [38.7, [25.3, [12, L, L], [21, L, L]], [32, [12, L, L], [21, L, L]]],
     [61, [29.3, L, [14.3, L, L]], [52, L, L]]],
    [84.3,
     [61,
      [44.3, L, [22, L, L]],
      [51,
       [34.3, [24.3, L, L], [28.3, L, [20, L, L]]],
       [38.7, L, [36, L, L]]]],
     [65,
      [54.3,
       [31.7, L, L],
       [50,
        [38.7,
         [29.3, [25.3, L, [18.7, L, L]], [26, L, [24.3, L, L]]],
         [28.3, L, [15.3, L, L]]],
        [41, [29.3, L, L], [28.7, L, L]]]],
      [54.3, L, [25.3, L, L]]]]],
   [135,
    [86, L, [51, L, L]],
    [118.3,
     [78.3, L, [41.7, L, L]],
     [91.7, L,
      [68.7,
       [44.3, L, [29.3, L, L]],
       [48.7, L, [45, [27.7, L, [21, L, L]], [28.7, L, L]]]]]]]]]]

ROW_TREE = [231.4,
 [224.5,
  [149.8, [104.9, L, L],
   [148.2,
    [115.1, L, [98.8, L, [85.7, L, L]]],
    [132.7,
     [118.4, L, [87.8, [62, L, [42, L, L]], [71.4, L, L]]],
     [127.3, L,
      [100, L, [91.8, [71.4, L, L], [75.5, L, [51.8, L, L]]]]]]]],
  [163.3,
   [110.2, L, L],
   [121.6, [65.3, L, L], [106.1, L, [104.1, L, [79.6, L, L]]]]]],
 [226.5,
  [140.8, [104.9, L, [80.4, L, L]], [113.1, L, L]],
  [162, L,
   [134.7,
    [71.4, L, [47.8, L, L]],
    [114.3, L, [91.8, L, [86.5, L, [64.5, L, L]]]]]]]]

def tree_lines(tree):
    pos, hts = [], []
    counter = [0]
    def walk(node):
        if node is None:
            counter[0] += 1
            return counter[0] - 1.0, 0.0
        h, a, b = node
        pa, ha = walk(a)
        pb, hb = walk(b)
        pos.extend([pa, pa, pb, pb, None])
        hts.extend([ha, h, h, hb, None])
        return (pa + pb) / 2, h
    walk(tree)
    return pos, hts, counter[0]

VEHICLE, CORT = "#7BAC3C", "#A57FBB"
FEMALE, MALE = "#F8716A", "#00BCC4"
HYPO, PIT, GON = "#CACACA", "#969696", "#525252"
INK = "#1c1c1c"
FONT = "Liberation Sans"
DENDRO = "#333333"

# pixel frame
HX0, HX1, HY0, HY1 = 243, 1171, 413, 1892
px = lambda x: x / W
py = lambda y: 1 - y / H

fig = go.Figure()

fig.add_trace(go.Heatmap(
    z=MATRIX, x=list(range(87)), y=list(range(41)), xaxis="x", yaxis="y",
    colorscale="Viridis", zmin=-1.75, zmax=6.96, hoverinfo="skip",
    colorbar=dict(x=px(1404), xanchor="left", y=py(574), yanchor="middle",
                  len=666 / H, lenmode="fraction", thickness=43, thicknessmode="pixels",
                  xpad=0, ypad=0, outlinewidth=0, borderwidth=0,
                  tickvals=[0, 2, 4, 6], ticks="outside", ticklen=12, tickcolor="rgba(0,0,0,0)",
                  tickfont=dict(family=FONT, size=43, color=INK))))

tracks = [("y2", expand(TREATMENT_RUNS), [[0, VEHICLE], [1, CORT]], 1),
          ("y3", expand(SEX_RUNS), [[0, FEMALE], [1, MALE]], 1),
          ("y4", expand(TISSUE_RUNS), [[0, HYPO], [0.5, PIT], [1, GON]], 2)]
for ya, codes, scale, top in tracks:
    fig.add_trace(go.Heatmap(z=[codes], x=list(range(87)), y=[0], xaxis="x", yaxis=ya,
                             colorscale=scale, zmin=0, zmax=top, showscale=False, hoverinfo="skip"))

cp, ch, n = tree_lines(COL_TREE)
assert n == 87, n
fig.add_trace(go.Scatter(x=cp, y=ch, xaxis="x", yaxis="y5", mode="lines", hoverinfo="skip",
                         line=dict(color=DENDRO, width=2.9), showlegend=False))
rp, rh, n = tree_lines(ROW_TREE)
assert n == 41, n
fig.add_trace(go.Scatter(x=rh, y=rp, xaxis="x2", yaxis="y", mode="lines", hoverinfo="skip",
                         line=dict(color=DENDRO, width=2.9), showlegend=False))

hidden = dict(visible=False, showgrid=False, zeroline=False, fixedrange=True)
fig.update_layout(
    width=W, height=H, margin=dict(l=0, r=0, t=0, b=0, pad=0, autoexpand=False),
    paper_bgcolor="white", plot_bgcolor="white", showlegend=False,
    xaxis=dict(hidden, domain=[px(HX0), px(HX1)], range=[-0.5, 86.5]),
    xaxis2=dict(hidden, domain=[0, px(HX0)], range=[243, 0]),
    yaxis=dict(domain=[py(HY1), py(HY0)], range=[40.5, -0.5], side="right", anchor="x",
               tickvals=list(range(41)), ticktext=GENES, ticks="outside", ticklen=7,
               tickcolor="rgba(0,0,0,0)", showline=False, showgrid=False, zeroline=False,
               tickfont=dict(family=FONT, size=31.5, color="#262626")),
    yaxis2=dict(hidden, domain=[py(293), py(249)], range=[-0.5, 0.5]),
    yaxis3=dict(hidden, domain=[py(346), py(303)], range=[-0.5, 0.5]),
    yaxis4=dict(hidden, domain=[py(399), py(356)], range=[-0.5, 0.5]),
    yaxis5=dict(hidden, domain=[py(243), py(10)], range=[0, 233]),
)

shapes, notes = [], []
def text(x, y, s, bold=False):
    notes.append(dict(x=px(x), y=py(y), xref="paper", yref="paper", text=f"<b>{s}</b>" if bold else s,
                      showarrow=False, xanchor="left", yanchor="middle", align="left",
                      borderpad=0, font=dict(family=FONT, size=44.5, color=INK)))

for label, y in [("treatment", 275), ("sex", 328), ("tissue", 382)]:
    text(1186, y, label, bold=True)

legend = [("treatment", 261, [("vehicle", VEHICLE, 293, 355, 325), ("CORT.treated", CORT, 355, 418, 390)]),
          ("sex", 485, [("female", FEMALE, 513, 578, 547), ("male", MALE, 578, 641, 611)]),
          ("tissue", 708, [("hypothalamus", HYPO, 735, 798, 770), ("pituitary", PIT, 798, 861, 835), ("gonads", GON, 861, 927, 897)])]
for title, ty, items in legend:
    text(1532, ty, title, bold=True)
    for label, color, y0, y1, yt in items:
        shapes.append(dict(type="rect", xref="paper", yref="paper", x0=px(1531), x1=px(1594),
                           y0=py(y1), y1=py(y0), fillcolor=color, line=dict(width=0)))
        text(1608, yt, label)
fig.update_layout(shapes=shapes, annotations=notes)

fig.write_html("out.html", config={"displayModeBar": False}, post_script="document.body.style.margin='0';")
